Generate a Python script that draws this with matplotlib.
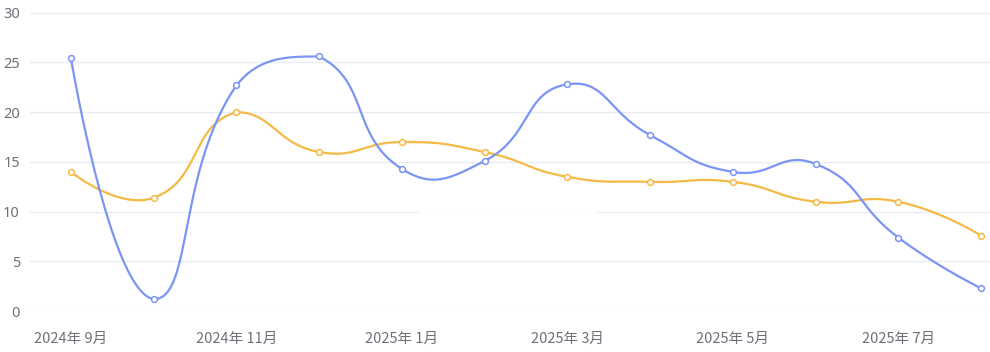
import numpy as np
import matplotlib
matplotlib.use('Agg')
import matplotlib.pyplot as plt

plt.rcParams['font.family'] = ['Noto Sans CJK SC', 'DejaVu Sans']

# monthly values, Sep 2024 .. Aug 2025
months = ['2024年 9月', '2024年 10月', '2024年 11月', '2024年 12月',
          '2025年 1月', '2025年 2月', '2025年 3月', '2025年 4月',
          '2025年 5月', '2025年 6月', '2025年 7月', '2025年 8月']
blue_vals = [25.4, 1.2, 22.7, 25.6, 14.3, 15.1, 22.8, 17.7, 14.0, 14.8, 7.4, 2.3]
orange_vals = [14.0, 11.4, 20.0, 16.0, 17.0, 16.0, 13.5, 13.0, 13.0, 11.0, 11.0, 7.6]

blue = '#7B95F4'
orange = '#F5B945'
grid_c = '#E9ECF2'
label_c = '#6E7079'

# pixel scale used for the smoothing
PX_X = 82.7
PX_Y = 9.97


def smooth_curve(xs, ys, smooth=0.5, n=40):
    # bezier smoothing, control points kept inside the bbox of all points
    px = np.array(xs, float) * PX_X
    py = np.array(ys, float) * PX_Y
    lo = np.array([px.min(), py.min()])
    hi = np.array([px.max(), py.max()])
    pts = np.column_stack([px, py])
    m = len(pts)
    cps = []
    for i in range(m):
        p = pts[i]
        if i == 0 or i == m - 1:
            cps.append((p.copy(), p.copy()))
            continue
        v = pts[i + 1] - pts[i - 1]
        d0 = np.linalg.norm(p - pts[i - 1])
        d1 = np.linalg.norm(pts[i + 1] - p)
        r = d1 / (d0 + d1)
        c_in = np.clip(p - v * smooth * (1 - r), lo, hi)
        c_out = np.clip(p + v * smooth * r, lo, hi)
        cps.append((c_in, c_out))
    t = np.linspace(0, 1, n)[:, None]
    out = []
    for i in range(m - 1):
        p0, c1, c2, p3 = pts[i], cps[i][1], cps[i + 1][0], pts[i + 1]
        out.append((1 - t) ** 3 * p0 + 3 * (1 - t) ** 2 * t * c1
                   + 3 * (1 - t) * t ** 2 * c2 + t ** 3 * p3)
    out = np.vstack(out)
    return out[:, 0] / PX_X, out[:, 1] / PX_Y


fig = plt.figure(figsize=(9.9, 3.52), dpi=100)
W, H = 990, 352
left_px, right_px = 29.6, 1022.4
top_px, bottom_px = 12.7, 311.2
ax = fig.add_axes([left_px / W, (H - bottom_px) / H,
                   (right_px - left_px) / W, (bottom_px - top_px) / H])

x = np.arange(len(months))
for vals, c in [(orange_vals, orange), (blue_vals, blue)]:
    sx, sy = smooth_curve(x, vals)
    ax.plot(sx, sy, color=c, lw=1.6, zorder=3, solid_capstyle='round')
    ax.plot(x, vals, 'o', ms=4.2, mfc='white', mec=c, mew=1.1, zorder=4)

ax.set_xlim(-0.5, len(months) - 0.5)
ax.set_ylim(0, 30)
ax.set_yticks([0, 5, 10, 15, 20, 25, 30])
ax.grid(axis='y', color=grid_c, lw=1)
ax.set_axisbelow(True)

# white gap across the 10 gridline (as in the reference)
ax.axhspan(9.85, 10.15, xmin=(4.22 + 0.5) / 12, xmax=(6.36 + 0.5) / 12,
           color='white', lw=0, zorder=1.5)

ax.set_xticks(x[::2])
ax.set_xticklabels(months[::2])
for s in ax.spines.values():
    s.set_visible(False)
ax.tick_params(axis='both', length=0, labelcolor=label_c, labelsize=10.5)
ax.tick_params(axis='x', pad=15)
ax.tick_params(axis='y', pad=7)
for lbl in ax.get_yticklabels():
    lbl.set_family(['Noto Sans', 'DejaVu Sans'])
    lbl.set_fontsize(10.5)

fig.savefig('out.png', dpi=100, facecolor='white')
